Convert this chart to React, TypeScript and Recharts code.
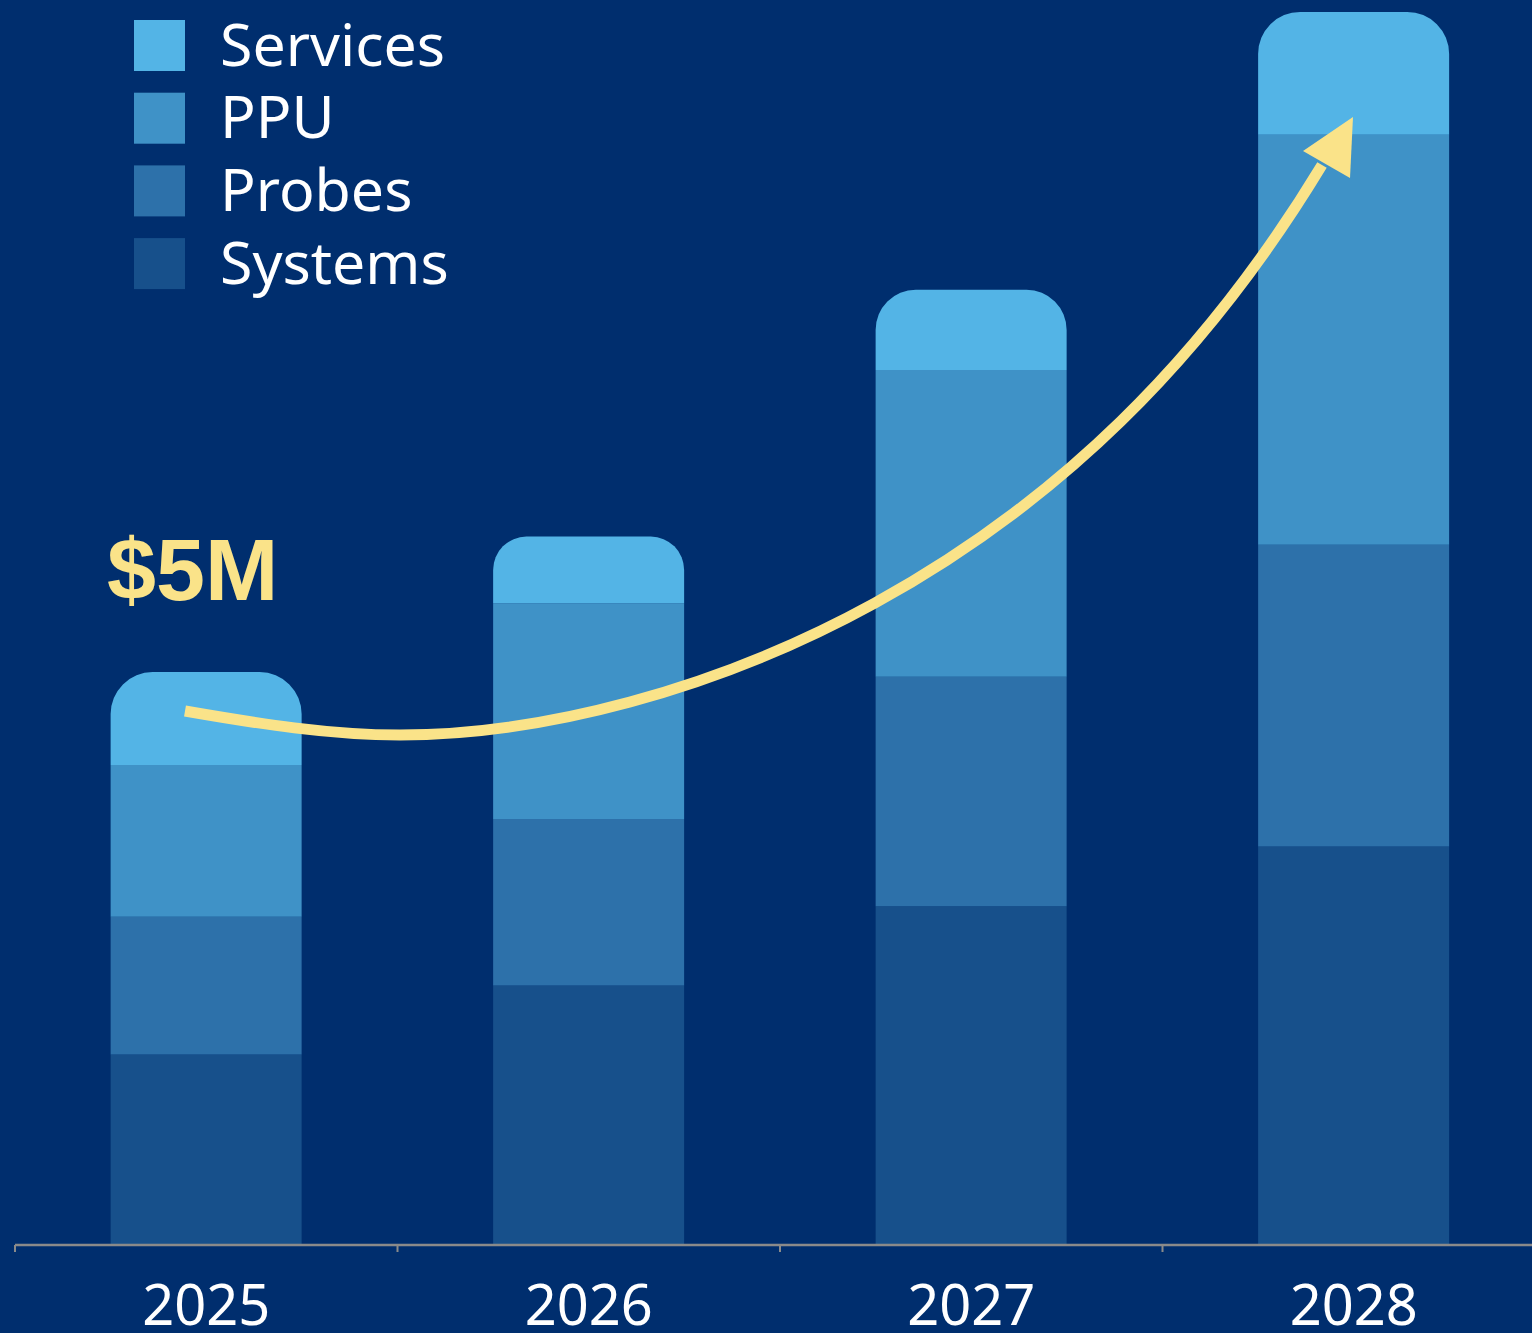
import * as React from 'react';
import { BarChart, Bar, XAxis, YAxis } from 'recharts';

// revenue by year, $M, stacked bottom -> top
const years = ['2025', '2026', '2027', '2028'];
const systems = [1.66, 2.26, 2.95, 3.47];
const probes = [1.2, 1.45, 2.0, 2.63];
const ppu = [1.32, 1.88, 2.67, 3.57];
const services = [0.81, 0.58, 0.7, 1.07];

const legendNames = ['Services', 'PPU', 'Probes', 'Systems'];
const legendColors = ['#53b4e6', '#3f92c7', '#2d71aa', '#17508b'];
const callout = '$5M';

const W = 1532;
const H = 1333;
const CHART_W = 1560;
const M_LEFT = 15;
const M_RIGHT = 15;
const BAND = (CHART_W - M_LEFT - M_RIGHT) / years.length;
const TICK_MARGIN = 34;
const BG = '#002e6e';
const YELLOW = '#fae389';

const data = years.map((year, i) => ({
  year,
  Systems: systems[i],
  Probes: probes[i],
  PPU: ppu[i],
  Services: services[i],
}));

// growth arrow, drawn freehand over the bars
const arrowPath = [
  'M185,711',
  'C260,724 330,735 400,735',
  'C540,735 715,691 875,603',
  'C1055,504 1202,363 1322,165',
].join(' ');

const YearTick = (props: any) => {
  const { x, y, payload, index } = props;
  const axisY = y - TICK_MARGIN - 6;
  const last = index === years.length - 1;
  return (
    <g>
      <line x1={x - BAND / 2} x2={x - BAND / 2} y1={axisY} y2={axisY + 7} stroke="#8a8a8a" strokeWidth={2} />
      {last && <line x1={x + BAND / 2} x2={x + BAND / 2} y1={axisY} y2={axisY + 7} stroke="#8a8a8a" strokeWidth={2} />}
      <text x={x} y={y} dy="0.71em" textAnchor="middle" fill="#ffffff" fontSize={56} fontFamily="Noto Sans">
        {payload.value}
      </text>
    </g>
  );
};

export default function App() {
  return (
    <div style={{ position: 'absolute', left: 0, top: 0, width: W, height: H, background: BG, overflow: 'hidden' }}>
      <BarChart
        width={CHART_W}
        height={H}
        data={data}
        margin={{ top: 5, right: M_RIGHT, left: M_LEFT, bottom: 0 }}
        barCategoryGap="25%"
      >
        <XAxis
          dataKey="year"
          height={88}
          axisLine={{ stroke: '#8a8a8a', strokeWidth: 2.5 }}
          tickLine={false}
          tickSize={6}
          tickMargin={TICK_MARGIN}
          tick={(p: any) => <YearTick {...p} />}
          interval={0}
        />
        <YAxis hide domain={[0, 10.8]} />
        <Bar dataKey="Systems" stackId="a" fill={legendColors[3]} isAnimationActive={false} />
        <Bar dataKey="Probes" stackId="a" fill={legendColors[2]} isAnimationActive={false} />
        <Bar dataKey="PPU" stackId="a" fill={legendColors[1]} isAnimationActive={false} />
        <Bar dataKey="Services" stackId="a" fill={legendColors[0]} radius={[42, 42, 0, 0]} isAnimationActive={false} />
      </BarChart>

      {/* legend, callout and growth arrow */}
      <svg width={W} height={H} style={{ position: 'absolute', left: 0, top: 0, pointerEvents: 'none' }}>
        {legendNames.map((name, i) => {
          const top = 20 + i * 72.7;
          return (
            <g key={name}>
              <rect x={134} y={top} width={51} height={51} fill={legendColors[i]} />
              <text x={220} y={top + 45.5} fill="#ffffff" fontSize={59} fontFamily="Noto Sans">
                {name}
              </text>
            </g>
          );
        })}
        <text x={107} y={600} fill={YELLOW} fontSize={88} fontWeight="bold" fontFamily="Liberation Sans">
          {callout}
        </text>
        <path d={arrowPath} fill="none" stroke={YELLOW} strokeWidth={11} />
        <polygon points="1353,117 1303,151 1350,178" fill={YELLOW} />
      </svg>
    </div>
  );
}
